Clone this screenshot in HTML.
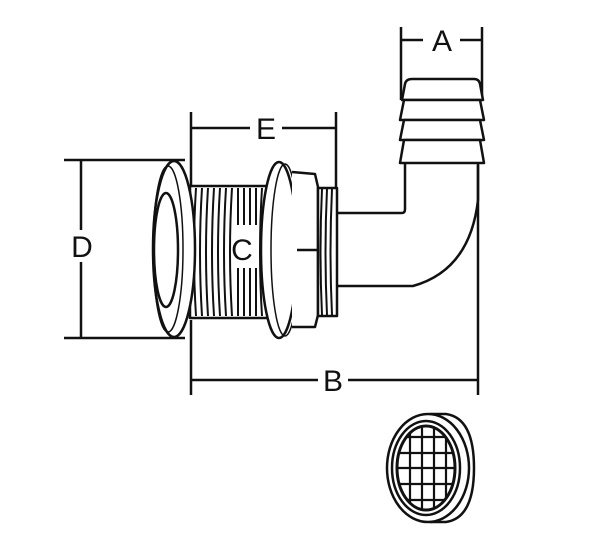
<!DOCTYPE html>
<html><head><meta charset="utf-8"><style>html,body{margin:0;padding:0;background:#fff}svg{display:block}</style></head>
<body>
<svg width="600" height="533" viewBox="0 0 600 533" xmlns="http://www.w3.org/2000/svg" fill="none" stroke="#111" stroke-width="2.5" stroke-linejoin="round">
<rect width="600" height="533" fill="#fff" stroke="none"/>
<!-- D dimension -->
<line x1="64" y1="160" x2="185" y2="160"/>
<line x1="64" y1="338" x2="185" y2="338"/>
<line x1="81" y1="160" x2="81" y2="230"/>
<line x1="81" y1="262" x2="81" y2="338"/>
<text x="82" y="257" font-family="Liberation Sans, sans-serif" font-size="30" fill="#111" stroke="none" text-anchor="middle">D</text>
<!-- E dimension -->
<line x1="191" y1="112" x2="191" y2="190"/>
<line x1="336" y1="112" x2="336" y2="215"/>
<line x1="191" y1="128" x2="250" y2="128"/>
<line x1="282" y1="128" x2="336" y2="128"/>
<text x="266" y="139" font-family="Liberation Sans, sans-serif" font-size="30" fill="#111" stroke="none" text-anchor="middle">E</text>
<!-- B dimension -->
<line x1="191" y1="320" x2="191" y2="395"/>
<line x1="478" y1="165" x2="478" y2="395"/>
<line x1="191" y1="380" x2="318" y2="380"/>
<line x1="348" y1="380" x2="478" y2="380"/>
<text x="333" y="391" font-family="Liberation Sans, sans-serif" font-size="30" fill="#111" stroke="none" text-anchor="middle">B</text>
<!-- A dimension -->
<line x1="401" y1="27" x2="401" y2="100"/>
<line x1="482" y1="27" x2="482" y2="100"/>
<line x1="401" y1="40" x2="423" y2="40"/>
<line x1="460" y1="40" x2="482" y2="40"/>
<text x="442" y="51" font-family="Liberation Sans, sans-serif" font-size="30" fill="#111" stroke="none" text-anchor="middle">A</text>
<!-- threaded body -->
<rect x="190" y="186" width="96" height="132" fill="#fff"/>
<g stroke-width="2">
<path d="M196 188 Q192 252 196 316 M202 188 Q198 252 202 316 M208 188 Q204 252 208 316 M214 188 Q210 252 214 316 M220 188 Q216 252 220 316 M226 188 Q222 252 226 316 M232 188 Q228 252 232 316 M262 188 Q258 252 262 316 M268 188 Q264 252 268 316 M274 188 Q270 252 274 316 M280 188 Q276 252 280 316"/>
<path d="M238 188 L238 225 M244 188 L244 225 M250 188 L250 225 M256 188 L256 225 M238 268 L238 316 M244 268 L244 316 M250 268 L250 316 M256 268 L256 316"/>
</g>
<text x="242" y="260" font-family="Liberation Sans, sans-serif" font-size="30" fill="#111" stroke="none" text-anchor="middle">C</text>
<!-- front flange -->
<ellipse cx="174" cy="249" rx="21" ry="88" fill="#fff"/>
<ellipse cx="168" cy="249" rx="15" ry="83" stroke-width="1.5"/>
<ellipse cx="166" cy="250" rx="12" ry="57" fill="#fff"/>
<!-- nut flange -->
<ellipse cx="279" cy="250" rx="18" ry="88" fill="#fff"/>
<ellipse cx="285" cy="250" rx="14" ry="86" stroke-width="1.5"/>
<!-- nut -->
<path d="M292 172 L315 174 L318 187 L318 315 L315 327 L292 327" fill="#fff"/>
<line x1="297" y1="250" x2="320" y2="250"/>
<!-- second threads -->
<rect x="318" y="188" width="19" height="128" fill="#fff"/>
<path d="M322 189 Q319 252 322 315 M327 189 Q324 252 327 315 M332 189 Q329 252 332 315" stroke-width="2"/>
<!-- elbow -->
<path d="M337 213 L402 213 Q405 213 405 209 L405 163"/>
<path d="M337 286 L413 286 Q470 270 478 200 L478 163"/>
<!-- barbs -->
<path d="M402 100 L405 84 Q406 79 412 79 L474 79 Q479 79 480 84 L483 100 Z" fill="#fff"/>
<path d="M400 120 L404 100 L480 100 L484 120 Z" fill="#fff"/>
<path d="M400 140 L404 120 L480 120 L484 140 Z" fill="#fff"/>
<path d="M400 163 L404 140 L480 140 L484 163 Z" fill="#fff"/>
<!-- strainer -->
<path d="M430 414 L446 414 Q474 418 474 468 Q474 518 446 522 L430 522" fill="#fff"/>
<ellipse cx="428" cy="468" rx="41" ry="54" fill="#fff"/>
<ellipse cx="426" cy="468" rx="34" ry="47"/>
<ellipse cx="426" cy="468" rx="29" ry="42" stroke-width="3"/>
<clipPath id="c"><ellipse cx="426" cy="468" rx="28" ry="41"/></clipPath>
<g clip-path="url(#c)" stroke-width="2.2">
<path d="M410 420 V520 M422 420 V520 M434 420 V520 M446 420 V520"/>
<path d="M395 437 H460 M395 453 H460 M395 468 H460 M395 484 H460 M395 500 H460"/>
</g>
</svg>
</body></html>
